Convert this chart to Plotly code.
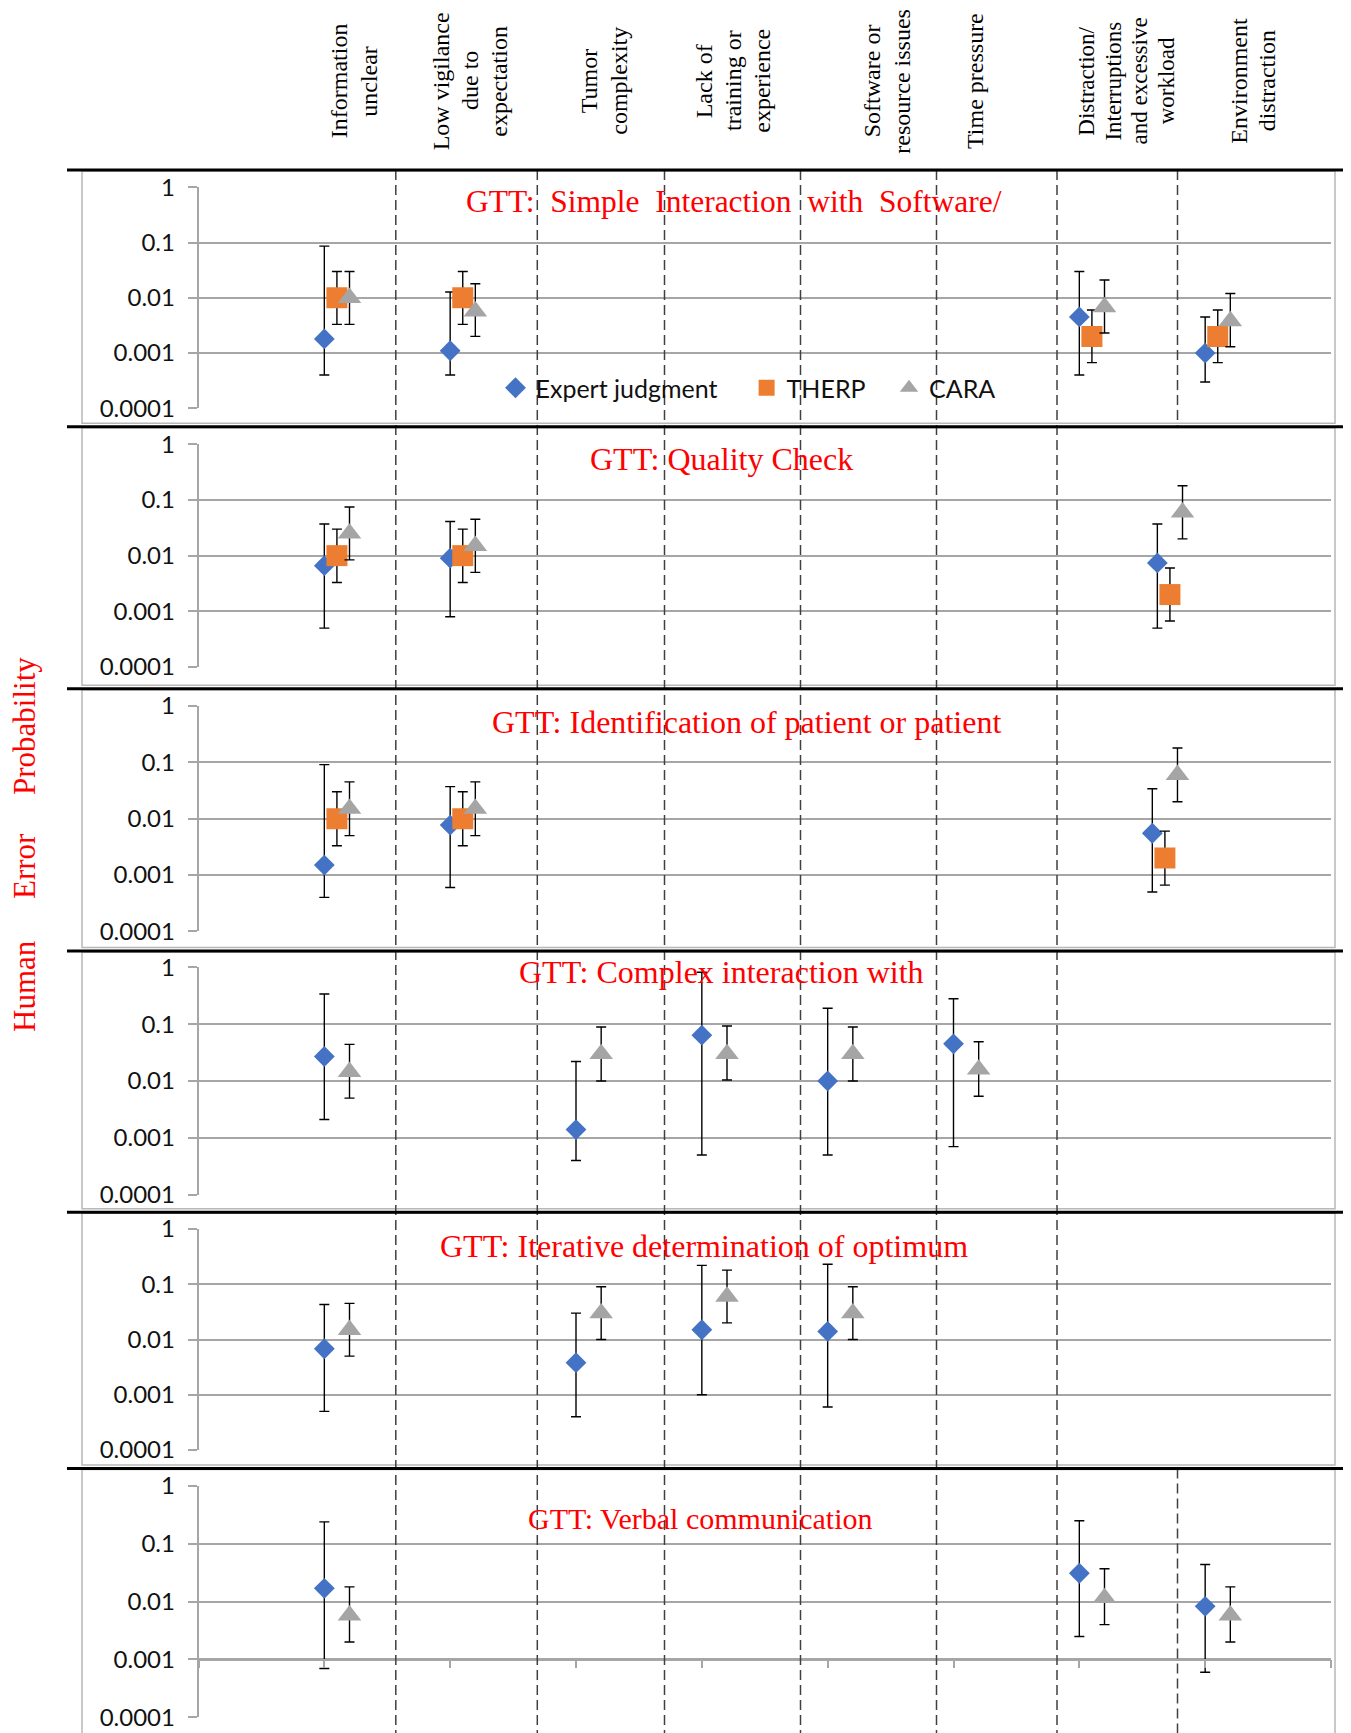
import plotly.graph_objects as go

# ---------------- data ----------------
CATEGORIES = [
    "Information unclear",
    "Low vigilance due to expectation",
    "Tumor complexity",
    "Lack of training or experience",
    "Software or resource issues",
    "Time pressure",
    "Distraction/ Interruptions and excessive workload",
    "Environment distraction",
]
HEADER_LINES = [
    ["Information", "unclear"],
    ["Low vigilance", "due to", "expectation"],
    ["Tumor", "complexity"],
    ["Lack of", "training or", "experience"],
    ["Software or", "resource issues"],
    ["Time pressure"],
    ["Distraction/", "Interruptions", "and excessive", "workload"],
    ["Environment", "distraction"],
]
METHODS = ["Expert judgment", "THERP", "CARA"]
Y_TICK_VALUES = [0.0001, 0.001, 0.01, 0.1, 1]
Y_TICK_TEXT = ["0.0001", "0.001", "0.01", "0.1", "1"]
Y_AXIS_WORDS = ["Human", "Error", "Probability"]
PANEL_TITLES = [
    "GTT:\u00a0 Simple\u00a0 Interaction\u00a0 with\u00a0 Software/",
    "GTT: Quality Check",
    "GTT: Identification of patient or patient",
    "GTT: Complex interaction with",
    "GTT: Iterative determination of optimum",
    "GTT: Verbal communication",
]

# Panel 1: simple interaction with software
P1_POS = [1, 2, 7, 8]
P1_EXPERT = [0.0018, 0.0011, 0.0045, 0.001]
P1_EXPERT_LO = [0.0004, 0.0004, 0.0004, 0.0003]
P1_EXPERT_HI = [0.086, 0.0127, 0.03, 0.0045]
P1_THERP = [0.01, 0.01, 0.002, 0.002]
P1_THERP_LO = [0.0033, 0.0033, 0.00067, 0.00067]
P1_THERP_HI = [0.03, 0.03, 0.006, 0.006]
P1_CARA = [0.01, 0.0057, 0.0068, 0.0038]
P1_CARA_LO = [0.0033, 0.002, 0.0023, 0.0013]
P1_CARA_HI = [0.03, 0.018, 0.021, 0.012]

# Panel 2: quality check
P2_POS = [1, 2, 7.62]
P2_EXPERT = [0.0066, 0.009, 0.0074]
P2_EXPERT_LO = [0.0005, 0.0008, 0.0005]
P2_EXPERT_HI = [0.037, 0.041, 0.037]
P2_THERP = [0.01, 0.01, 0.002]
P2_THERP_LO = [0.0033, 0.0033, 0.00067]
P2_THERP_HI = [0.03, 0.03, 0.006]
P2_CARA = [0.025, 0.015, 0.06]
P2_CARA_LO = [0.0084, 0.005, 0.02]
P2_CARA_HI = [0.075, 0.045, 0.18]

# Panel 3: identification of patient
P3_POS = [1, 2, 7.58]
P3_EXPERT = [0.0015, 0.0077, 0.0055]
P3_EXPERT_LO = [0.0004, 0.0006, 0.0005]
P3_EXPERT_HI = [0.091, 0.037, 0.034]
P3_THERP = [0.01, 0.01, 0.002]
P3_THERP_LO = [0.0033, 0.0033, 0.00066]
P3_THERP_HI = [0.03, 0.03, 0.006]
P3_CARA = [0.015, 0.015, 0.06]
P3_CARA_LO = [0.005, 0.005, 0.02]
P3_CARA_HI = [0.045, 0.045, 0.18]

# Panel 4: complex interaction
P4_POS = [1, 3, 4, 5, 6]
P4_EXPERT = [0.027, 0.0014, 0.064, 0.01, 0.045]
P4_EXPERT_LO = [0.0021, 0.0004, 0.0005, 0.0005, 0.0007]
P4_EXPERT_HI = [0.34, 0.022, 0.82, 0.19, 0.28]
P4_CARA = [0.0145, 0.03, 0.03, 0.03, 0.016]
P4_CARA_LO = [0.005, 0.01, 0.0104, 0.01, 0.0054]
P4_CARA_HI = [0.044, 0.089, 0.093, 0.089, 0.049]

# Panel 5: iterative determination of optimum
P5_POS = [1, 3, 4, 5]
P5_EXPERT = [0.0068, 0.0038, 0.015, 0.014]
P5_EXPERT_LO = [0.0005, 0.0004, 0.001, 0.0006]
P5_EXPERT_HI = [0.043, 0.03, 0.22, 0.23]
P5_CARA = [0.015, 0.03, 0.06, 0.03]
P5_CARA_LO = [0.005, 0.01, 0.02, 0.01]
P5_CARA_HI = [0.045, 0.09, 0.18, 0.09]

# Panel 6: verbal communication
P6_POS = [1, 7, 8]
P6_EXPERT = [0.017, 0.031, 0.0083]
P6_EXPERT_LO = [0.0007, 0.0025, 0.0006]
P6_EXPERT_HI = [0.24, 0.25, 0.044]
P6_CARA = [0.0058, 0.0116, 0.0058]
P6_CARA_LO = [0.002, 0.004, 0.002]
P6_CARA_HI = [0.018, 0.037, 0.018]

PANELS = [
    (P1_POS, {"Expert judgment": (P1_EXPERT, P1_EXPERT_LO, P1_EXPERT_HI),
              "THERP": (P1_THERP, P1_THERP_LO, P1_THERP_HI),
              "CARA": (P1_CARA, P1_CARA_LO, P1_CARA_HI)}),
    (P2_POS, {"Expert judgment": (P2_EXPERT, P2_EXPERT_LO, P2_EXPERT_HI),
              "THERP": (P2_THERP, P2_THERP_LO, P2_THERP_HI),
              "CARA": (P2_CARA, P2_CARA_LO, P2_CARA_HI)}),
    (P3_POS, {"Expert judgment": (P3_EXPERT, P3_EXPERT_LO, P3_EXPERT_HI),
              "THERP": (P3_THERP, P3_THERP_LO, P3_THERP_HI),
              "CARA": (P3_CARA, P3_CARA_LO, P3_CARA_HI)}),
    (P4_POS, {"Expert judgment": (P4_EXPERT, P4_EXPERT_LO, P4_EXPERT_HI),
              "CARA": (P4_CARA, P4_CARA_LO, P4_CARA_HI)}),
    (P5_POS, {"Expert judgment": (P5_EXPERT, P5_EXPERT_LO, P5_EXPERT_HI),
              "CARA": (P5_CARA, P5_CARA_LO, P5_CARA_HI)}),
    (P6_POS, {"Expert judgment": (P6_EXPERT, P6_EXPERT_LO, P6_EXPERT_HI),
              "CARA": (P6_CARA, P6_CARA_LO, P6_CARA_HI)}),
]

# ---------------- style / layout ----------------
MARKERS = {
    "Expert judgment": dict(symbol="diamond", color="#4472C4", size=16),
    "THERP": dict(symbol="square", color="#ED7D31", size=21),
    "CARA": dict(symbol="triangle-up", color="#A5A5A5", size=20.5),
}
DODGE = {"Expert judgment": 0.0, "THERP": 0.1, "CARA": 0.2}
LEGEND_IDS = {"Expert judgment": "legend", "THERP": "legend2", "CARA": "legend3"}
LEGEND_SYMBOL_X = {"Expert judgment": 517.5, "THERP": 768.6, "CARA": 911.0}
LEGEND_Y = 388

GRID = "#a6a6a6"
SANS = "Lato"
SERIF = "Liberation Serif"

# page offset (browser body margin) and figure size
OFF = 8
W, H = 1351 - OFF, 1733 - OFF

# pixel geometry in page coordinates (top = gridline "1", bottom = gridline "0.0001")
PANEL_GRID = [(187.3, 408.3), (444.3, 667.0), (706.0, 931.3),
              (967.3, 1194.7), (1229.0, 1450.0), (1486.0, 1717.3)]
SEPARATORS = [170, 426.7, 688.8, 951, 1212.3, 1468.5]
X_LEFT, X_RIGHT = 198.5, 1331.0
FRAME_LEFT, FRAME_RIGHT = 82, 1335
DASH_X_ALL = [395.8, 537.3, 664.5, 800.5, 936.5, 1057.0]
DASH_X_PART = 1177.5
TITLE_POS = [(734, 201), (721, 459), (746, 722), (722, 972), (704, 1245.5), (700, 1518)]
TITLE_SIZES = [31.5, 32, 32, 32, 32, 30]
HEADER_X = [354, 470, 604, 733, 887, 975, 1127, 1253]
HEADER_GAP = [29.5, 28.7, 29.5, 28.7, 29.5, 29, 26.9, 28.7]
HEADER_SIZE = [24, 24, 24, 24, 24, 24, 23, 24]
HEADER_Y = 81
YWORD_Y = [986, 866, 726]


def px(x):
    return (x - OFF) / W


def py(y):
    return 1 - (y - OFF) / H


fig = go.Figure()

for i, (pos, series) in enumerate(PANELS):
    ax = "" if i == 0 else str(i + 1)
    for m in METHODS:
        if m not in series:
            continue
        vals, lo, hi = series[m]
        st = MARKERS[m]
        fig.add_trace(go.Scatter(
            x=[p + DODGE[m] for p in pos],
            y=vals,
            mode="markers",
            name=m,
            legendgroup=m,
            legend=LEGEND_IDS[m],
            showlegend=(i == 0),
            marker=dict(symbol=st["symbol"], color=st["color"], size=st["size"],
                        line=dict(width=0)),
            error_y=dict(type="data", symmetric=False,
                         array=[h - v for h, v in zip(hi, vals)],
                         arrayminus=[v - l for v, l in zip(vals, lo)],
                         color="black", thickness=1.4, width=5),
            xaxis="x" + ax, yaxis="y" + ax,
            hoverinfo="x+y",
        ))

layout = dict(
    width=W, height=H, autosize=False,
    margin=dict(l=0, r=0, t=0, b=0, pad=0),
    paper_bgcolor="white", plot_bgcolor="rgba(0,0,0,0)",
    font=dict(family=SANS, size=24, color="#111111"),
    showlegend=True,
)
for m in METHODS:
    layout[LEGEND_IDS[m]] = dict(
        orientation="h", x=px(LEGEND_SYMBOL_X[m] - 22), y=py(LEGEND_Y),
        xanchor="left", yanchor="middle", bgcolor="rgba(0,0,0,0)",
        font=dict(family=SANS, size=25, color="#111111"), itemwidth=30)

for i, (top, bot) in enumerate(PANEL_GRID):
    ax = "" if i == 0 else str(i + 1)
    layout["yaxis" + ax] = dict(
        type="log", range=[-4, 0], domain=[py(bot), py(top)],
        anchor="x" + ax,
        tickvals=Y_TICK_VALUES, ticktext=Y_TICK_TEXT,
        showgrid=True, gridcolor=GRID, gridwidth=1.5,
        showline=True, linecolor=GRID, linewidth=1.5,
        ticks="outside", ticklen=9, tickcolor=GRID, tickwidth=1.5,
        ticklabelstandoff=8,
        zeroline=False, automargin=False, fixedrange=True,
        tickfont=dict(family=SANS, size=24, color="#111111"),
    )
    xa = dict(range=[0, 9], domain=[px(X_LEFT), px(X_RIGHT)], anchor="y" + ax,
              showgrid=False, zeroline=False, automargin=False, fixedrange=True)
    if i == len(PANEL_GRID) - 1:
        xa.update(visible=True, showticklabels=False, showline=True,
                  linecolor=GRID, linewidth=1.5, ticks="outside", ticklen=8,
                  tickcolor=GRID, tickwidth=1.5, tickvals=list(range(10)),
                  anchor="free", position=py(1659.7))
    else:
        xa.update(visible=False)
    layout["xaxis" + ax] = xa

shapes = []
bounds = SEPARATORS + [1740]
for i in range(len(PANEL_GRID)):
    shapes.append(dict(type="rect", xref="paper", yref="paper",
                       x0=px(FRAME_LEFT), x1=px(FRAME_RIGHT),
                       y0=py(bounds[i + 1] - 3.5), y1=py(bounds[i] + 1),
                       line=dict(color="#b8b8b8", width=1.5), layer="below"))
for x in DASH_X_ALL:
    shapes.append(dict(type="line", xref="paper", yref="paper",
                       x0=px(x), x1=px(x), y0=py(SEPARATORS[0]), y1=py(1740),
                       line=dict(color="#404040", width=1.5, dash="10px,5px"), layer="above"))
for (y0, y1) in [(SEPARATORS[0], SEPARATORS[1]), (SEPARATORS[5], 1740)]:
    shapes.append(dict(type="line", xref="paper", yref="paper",
                       x0=px(DASH_X_PART), x1=px(DASH_X_PART), y0=py(y0), y1=py(y1),
                       line=dict(color="#404040", width=1.5, dash="10px,5px"), layer="above"))
for y in SEPARATORS:
    shapes.append(dict(type="line", xref="paper", yref="paper",
                       x0=px(67), x1=px(1347), y0=py(y), y1=py(y),
                       line=dict(color="black", width=3), layer="above"))
layout["shapes"] = shapes

annotations = []
for (tx, ty), t, fs in zip(TITLE_POS, PANEL_TITLES, TITLE_SIZES):
    annotations.append(dict(text=t, x=px(tx), y=py(ty), xref="paper", yref="paper",
                            xanchor="center", yanchor="middle", showarrow=False,
                            font=dict(family=SERIF, size=fs, color="#ff0000")))
for hx, lines, gap, fs in zip(HEADER_X, HEADER_LINES, HEADER_GAP, HEADER_SIZE):
    n = len(lines)
    for j, line in enumerate(lines):
        lx = hx + (j - (n - 1) / 2) * gap
        annotations.append(dict(text=line, x=px(lx), y=py(HEADER_Y), xref="paper", yref="paper",
                                xanchor="center", yanchor="middle", showarrow=False,
                                textangle=-90,
                                font=dict(family=SERIF, size=fs, color="black")))
for wy, w in zip(YWORD_Y, Y_AXIS_WORDS):
    annotations.append(dict(text=w, x=px(24), y=py(wy), xref="paper", yref="paper",
                            xanchor="center", yanchor="middle", showarrow=False,
                            textangle=-90,
                            font=dict(family=SERIF, size=31, color="#ff0000")))
layout["annotations"] = annotations

fig.update_layout(**layout)
fig.write_html("out.html")
